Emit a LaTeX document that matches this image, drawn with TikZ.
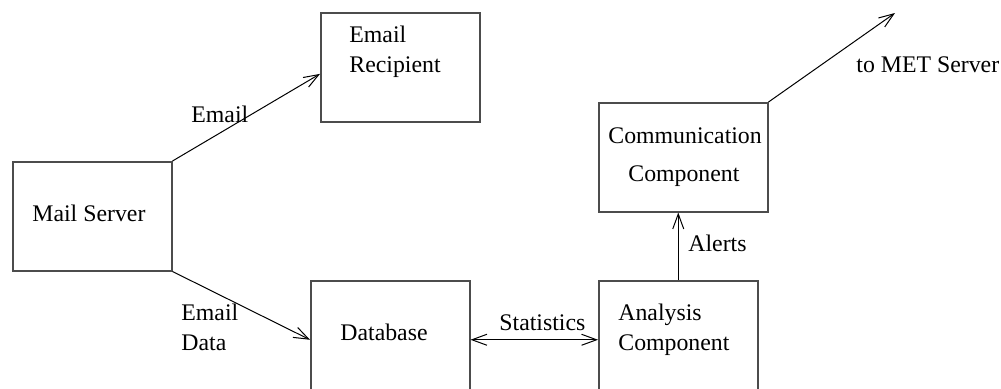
\documentclass[tikz,border=0pt]{standalone}
\usepackage{fontspec}
\setmainfont{Liberation Serif}
\usetikzlibrary{arrows.meta,calc}
\begin{document}
\begin{tikzpicture}[x=0.5pt,y=-0.5pt,
  box/.style={draw=black!70,line width=0.75pt,rectangle,inner sep=0pt,anchor=north west},
  lbl/.style={anchor=base west,inner sep=0pt,font=\fontsize{11.9}{14}\selectfont},
  arr/.style={draw=black,line width=0.5pt,-{Straight Barb[length=7.5pt,width=5.5pt]}},
  darr/.style={draw=black,line width=0.5pt,{Straight Barb[length=7.5pt,width=5.5pt]}-{Straight Barb[length=7.5pt,width=5.5pt]}}]
\clip (0,0) rectangle (1001,388);
\fill[white] (0,0) rectangle (1001,388);
% boxes
\node[box,minimum width=79.5pt,minimum height=54.5pt] (er) at (320,12) {};
\node[box,minimum width=79.5pt,minimum height=54.5pt] (ms) at (12,161) {};
\node[box,minimum width=79.5pt,minimum height=59pt] (db) at (310,280) {};
\node[box,minimum width=84.5pt,minimum height=54.5pt] (cc) at (598,102) {};
\node[box,minimum width=79.5pt,minimum height=59pt] (an) at (598,280) {};
\coordinate (met) at (895,13);
% texts
\node[lbl] (t1) at (349,42) {Email};
\node[lbl] (t2) at (349,72) {Recipient};
\node[lbl] (t3) at (32,221) {Mail Server};
\node[lbl] (t4) at (340,340) {Database};
\node[lbl] (t5) at (608,143) {Communication};
\node[lbl] (t6) at (628,181) {Component};
\node[lbl] (t7) at (618,320) {Analysis};
\node[lbl] (t8) at (618,350) {Component};
% connector labels
\node[lbl] (l1) at (191,122) {Email};
\node[lbl] (l2) at (181,320) {Email};
\node[lbl] (l3) at (181,350) {Data};
\node[lbl] (l4) at (499,330) {Statistics};
\node[lbl] (l5) at (688,251) {Alerts};
\node[lbl] (l6) at (856,72) {to MET Server};
% connectors
\draw[arr] (ms.north east) -- ($(er.south west)!0.44!(er.north west)$);
\draw[arr] (ms.south east) -- (db.west);
\draw[darr] (db.east) -- (an.west);
\draw[arr] (an.north) -- (an.north |- cc.south);
\draw[arr] (cc.north east) -- (met);
\end{tikzpicture}
\end{document}
